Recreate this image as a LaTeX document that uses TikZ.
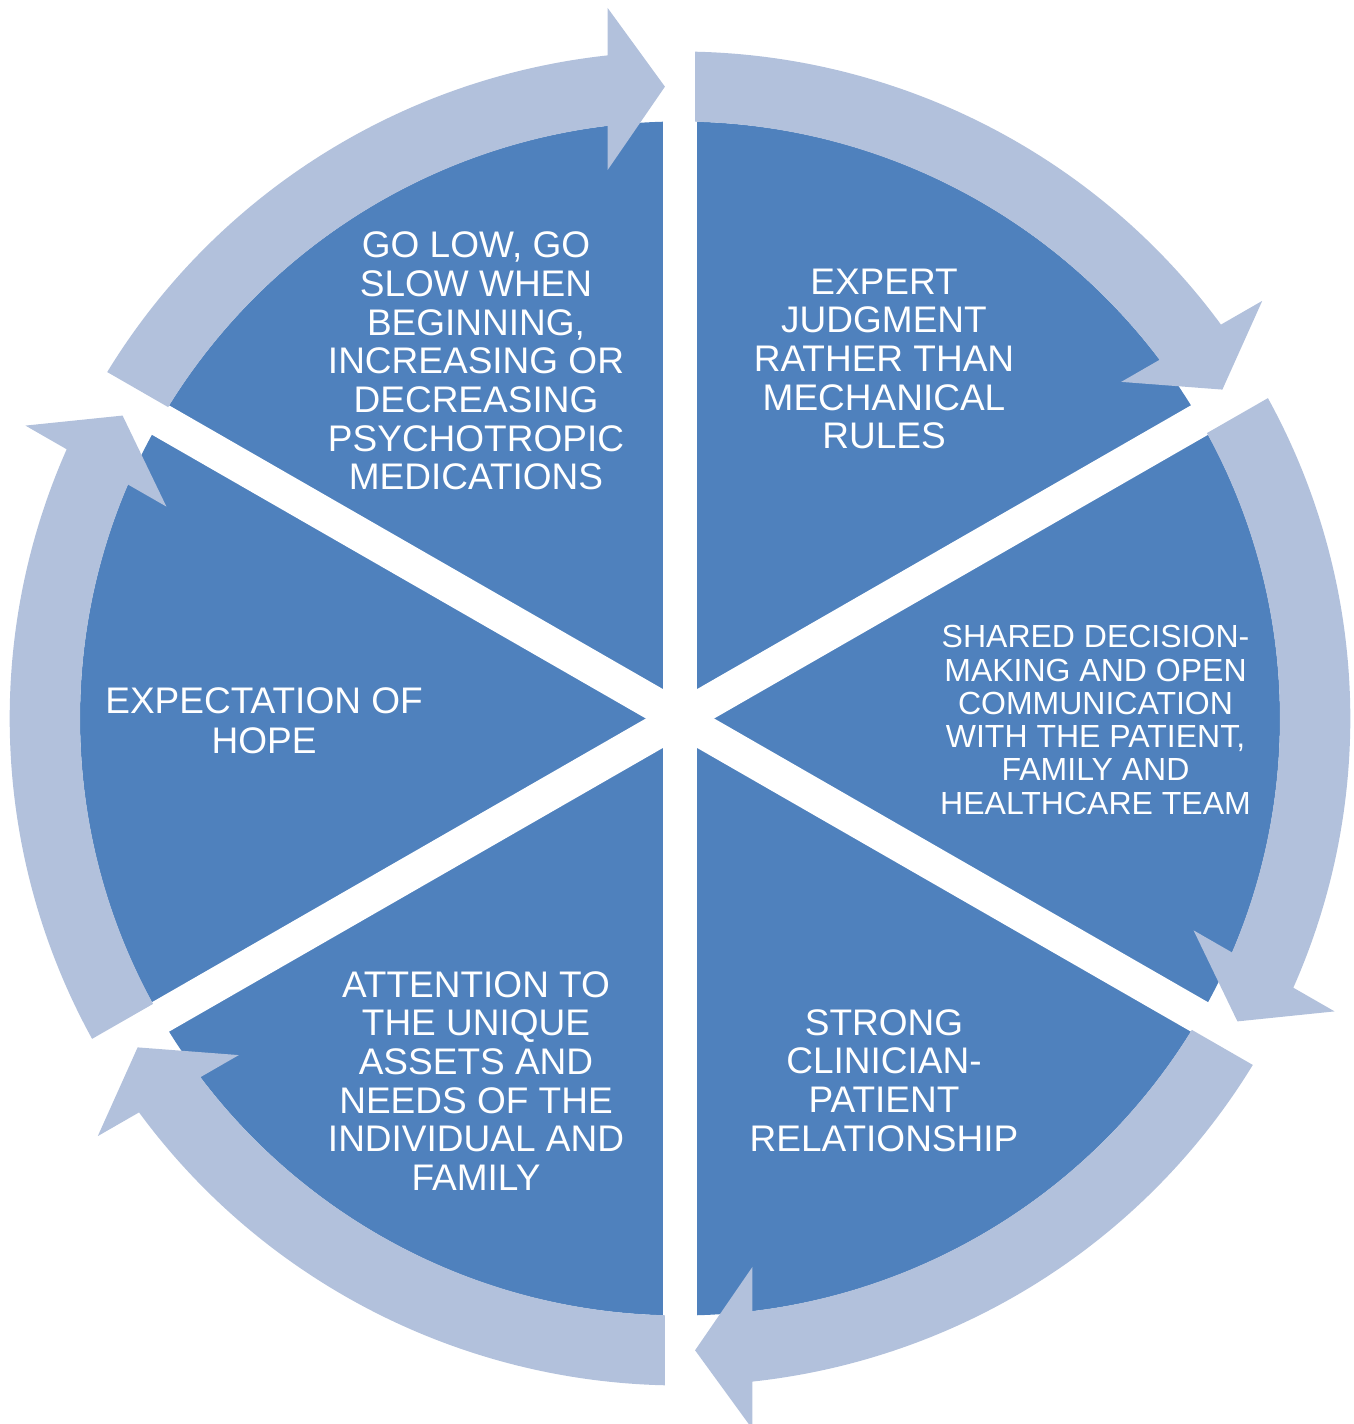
\documentclass[tikz,border=0pt]{standalone}
\usepackage{fontspec}
\setmainfont{Liberation Sans}
\definecolor{segblue}{RGB}{79,129,189}
\definecolor{arrowblue}{RGB}{178,193,220}
\tikzset{
  segfill/.style={fill=segblue},
  gapline/.style={draw=white, line width=34pt},
  cyclearrow/.style={fill=arrowblue},
  lbl/.style={text=white, align=center, inner sep=0pt, font=\fontsize{37}{38.7}\selectfont},
}
\begin{document}
\begin{tikzpicture}[x=1pt,y=1pt]
\useasboundingbox (0pt,0pt) rectangle (1354pt,1424pt);
\begin{scope}[shift={(680pt,705.5pt)}, xscale=1.005]
  \fill[segfill] (0pt,0pt) circle[radius=597pt];
  \draw[gapline] (90:605pt) -- (-90:605pt);
  \draw[gapline] (30:605pt) -- (210:605pt);
  \draw[gapline] (-30:605pt) -- (150:605pt);
\end{scope}
\foreach \b in {90,30,-30,-90,-150,150}{
  \begin{scope}[shift={(680pt,705.5pt)}, xscale=1.005, rotate=\b-90]
    \fill[cyclearrow] (-15pt,631.8pt) -- (-72pt,710.5pt) -- (-72pt,663.1pt)
      arc[start angle=96.2, end angle=148.71, radius=667pt]
      -- (148.56:597pt)
      arc[start angle=148.56, end angle=96.93, radius=597pt]
      -- (-72pt,548.5pt) -- cycle;
  \end{scope}
}
\node[lbl] (golow) at (476pt,1063pt) {GO LOW, GO\\SLOW WHEN\\BEGINNING,\\INCREASING OR\\DECREASING\\PSYCHOTROPIC\\MEDICATIONS};
\node[lbl] (expert) at (884pt,1065pt) {EXPERT\\JUDGMENT\\RATHER THAN\\MECHANICAL\\RULES};
\node[lbl, font=\fontsize{32}{33.3}\selectfont] (shared) at (1095.5pt,704pt) {SHARED DECISION-\\MAKING AND OPEN\\COMMUNICATION\\WITH THE PATIENT,\\FAMILY AND\\HEALTHCARE TEAM};
\node[lbl] (strong) at (884pt,343.5pt) {STRONG\\CLINICIAN-\\PATIENT\\RELATIONSHIP};
\node[lbl] (attention) at (476pt,343pt) {ATTENTION TO\\THE UNIQUE\\ASSETS AND\\NEEDS OF THE\\INDIVIDUAL AND\\FAMILY};
\node[lbl, font=\fontsize{37}{40}\selectfont] (hope) at (264pt,703.5pt) {EXPECTATION OF\\HOPE};
\end{tikzpicture}
\end{document}
